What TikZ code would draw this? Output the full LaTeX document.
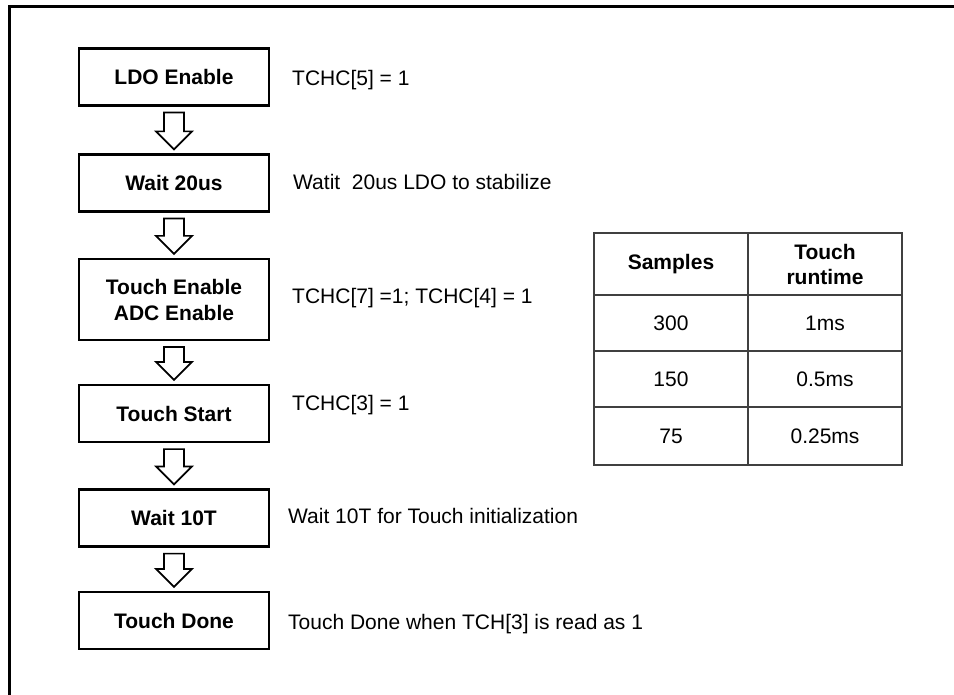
\documentclass[tikz,border=0pt]{standalone}
\usepackage{fontspec}
\setmainfont{Liberation Sans}
\usetikzlibrary{calc}
\newcommand\flowarrow[2]{%
  \draw[blockarrow] let \p1=(#1.south), \p2=(#2.north) in
    (\x1-10pt,\y1-6pt) -- (\x1+10pt,\y1-6pt) -- (\x1+10pt,\y2+22pt) --
    (\x1+18pt,\y2+22pt) -- (\x1,\y2+4pt) -- (\x1-18pt,\y2+22pt) --
    (\x1-10pt,\y2+22pt) -- cycle;}
\begin{document}
\begin{tikzpicture}[x=1pt,y=-1pt,
  stepbox/.style={draw, line width=2.2pt, minimum width=190pt, minimum height=57pt,
    inner sep=0pt, align=center, font=\fontsize{21}{26}\selectfont\bfseries},
  note/.style={anchor=west, inner sep=0pt, font=\fontsize{21}{26}\selectfont},
  cell/.style={draw=black!75, line width=1.3pt, minimum width=154pt, inner sep=0pt,
    align=center, font=\fontsize{21}{25}\selectfont},
  headcell/.style={cell, minimum height=62pt, font=\fontsize{21}{25}\selectfont\bfseries},
  blockarrow/.style={draw, line width=1.7pt, fill=white, line join=miter},
  framestyle/.style={line width=3pt}]
\useasboundingbox (0,0) rectangle (954,695);
% frame (top and left edges visible)
\coordinate (fbl) at (9,696);
\coordinate (ftl) at (9,7);
\coordinate (ftr) at (955,7);
\draw[framestyle] (fbl) -- (ftl) -- (ftr);
% flow boxes
\node[stepbox] (ldo) at (174,77) {LDO Enable};
\node[stepbox] (w20) at (174,183) {Wait 20us};
\node[stepbox, minimum height=81pt] (ten) at (174,299.5) {Touch Enable\\ADC Enable};
\node[stepbox] (tst) at (174,413.5) {Touch Start};
\node[stepbox] (w10) at (174,518) {Wait 10T};
\node[stepbox] (done) at (174,620.5) {Touch Done};
% arrows
\flowarrow{ldo}{w20}
\flowarrow{w20}{ten}
\flowarrow{ten}{tst}
\flowarrow{tst}{w10}
\flowarrow{w10}{done}
% notes
\node[note] (n1) at (292,80) {TCHC[5] = 1};
\node[note] (n2) at (293,182) {Watit\ \ 20us LDO to stabilize};
\node[note] (n3) at (292,298) {TCHC[7] =1; TCHC[4] = 1};
\node[note] (n4) at (292,405) {TCHC[3] = 1};
\node[note] (n5) at (288,516) {Wait 10T for Touch initialization};
\node[note] (n6) at (288,624) {Touch Done when TCH[3] is read as 1};
% table
\node[headcell] (h1) at (671,264) {Samples};
\node[headcell] (h2) at (825,264) {Touch\\runtime};
\node[cell, minimum height=56pt] (a1) at (671,323) {300};
\node[cell, minimum height=56pt] (b1) at (825,323) {1ms};
\node[cell, minimum height=56pt] (a2) at (671,379) {150};
\node[cell, minimum height=56pt] (b2) at (825,379) {0.5ms};
\node[cell, minimum height=58pt] (a3) at (671,436) {75};
\node[cell, minimum height=58pt] (b3) at (825,436) {0.25ms};
\end{tikzpicture}
\end{document}
